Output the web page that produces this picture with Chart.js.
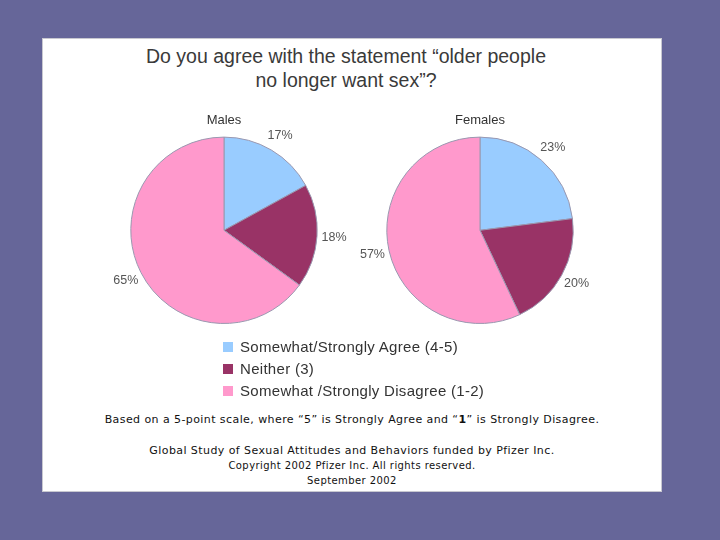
<!DOCTYPE html>
<html>
<head>
<meta charset="utf-8">
<script src="https://cdn.jsdelivr.net/npm/chart.js@4.4.0/dist/chart.umd.min.js"></script>
<style>
  html, body { margin: 0; padding: 0; }
  body { width: 720px; height: 540px; background: #666699; position: relative; overflow: hidden; }
  .panel { position: absolute; left: 42px; top: 38px; width: 618px; height: 452px; background: #fff; border: 1px solid #c8c8d0; }
  .title { position: absolute; left: 42px; top: 44px; width: 608px; text-align: center; font: 19.5px "Liberation Sans", Arial, sans-serif; line-height: 24px; color: #3a3a3a; }
  canvas { position: absolute; }
  .legend { position: absolute; left: 223px; top: 336px; font: 15px "Liberation Sans", Arial, sans-serif; letter-spacing: 0.3px; color: #333; }
  .legend div { height: 22px; line-height: 22px; position: relative; padding-left: 17px; }
  .legend span { position: absolute; left: 0; top: 6px; width: 10px; height: 10px; }
  .foot { position: absolute; left: 42px; width: 620px; text-align: center; font-family: "DejaVu Sans", Verdana, sans-serif; color: #111; letter-spacing: 0.42px; }
</style>
</head>
<body>
<div class="panel"></div>
<div class="title">Do you agree with the statement “older people<br>no longer want sex”?</div>
<canvas id="males" width="260" height="230" style="left:94px; top:108px;"></canvas>
<canvas id="females" width="260" height="230" style="left:350px; top:108px;"></canvas>
<div class="legend" id="legend"></div>
<div class="foot" style="top:413px; font-size:11px;">Based on a 5-point scale, where “5” is Strongly Agree and “<b>1</b>” is Strongly Disagree.</div>
<div class="foot" style="top:444px; font-size:11px;">Global Study of Sexual Attitudes and Behaviors funded by Pfizer Inc.</div>
<div class="foot" style="top:460px; font-size:10px;">Copyright 2002 Pfizer Inc. All rights reserved.</div>
<div class="foot" style="top:475px; font-size:10px;">September 2002</div>
<script>
const categories = ['Somewhat/Strongly Agree (4-5)', 'Neither (3)', 'Somewhat /Strongly Disagree (1-2)'];
const malesValues = [17, 18, 65];
const femalesValues = [23, 20, 57];
const sliceColors = ['#99CCFF', '#993366', '#FF99CC'];

// percent labels just outside each slice
const outsideLabels = {
    id: 'outsideLabels',
    afterDatasetsDraw(chart) {
        const ctx = chart.ctx;
        const meta = chart.getDatasetMeta(0);
        const data = chart.data.datasets[0].data;
        ctx.save();
        ctx.font = '12.5px "Liberation Sans", Arial, sans-serif';
        ctx.fillStyle = '#555';
        ctx.textAlign = 'center';
        ctx.textBaseline = 'middle';
        meta.data.forEach((arc, i) => {
            const p = arc.getProps(['x', 'y', 'startAngle', 'endAngle', 'outerRadius'], true);
            const mid = (p.startAngle + p.endAngle) / 2;
            const r = p.outerRadius + 17;
            ctx.fillText(data[i] + '%', p.x + Math.cos(mid) * r, p.y + Math.sin(mid) * r);
        });
        ctx.restore();
    }
};

function makePie(id, label, values) {
    return new Chart(document.getElementById(id), {
        type: 'pie',
        data: {
            labels: categories,
            datasets: [{
                data: values,
                backgroundColor: sliceColors,
                borderColor: '#9a98b0',
                borderWidth: 1
            }]
        },
        options: {
            responsive: false,
            animation: false,
            layout: { padding: { left: 30, right: 30, bottom: 14 } },
            plugins: {
                legend: { display: false },
                tooltip: { enabled: false },
                title: {
                    display: true,
                    text: label,
                    color: '#333',
                    font: { size: 13, family: '"Liberation Sans", Arial, sans-serif', weight: 'normal' },
                    padding: { top: 5, bottom: 8 }
                }
            }
        },
        plugins: [outsideLabels]
    });
}

makePie('males', 'Males', malesValues);
makePie('females', 'Females', femalesValues);

const legend = document.getElementById('legend');
categories.forEach((c, i) => {
    const row = document.createElement('div');
    const box = document.createElement('span');
    box.style.background = sliceColors[i];
    row.appendChild(box);
    row.appendChild(document.createTextNode(c));
    legend.appendChild(row);
});
</script>
</body>
</html>
